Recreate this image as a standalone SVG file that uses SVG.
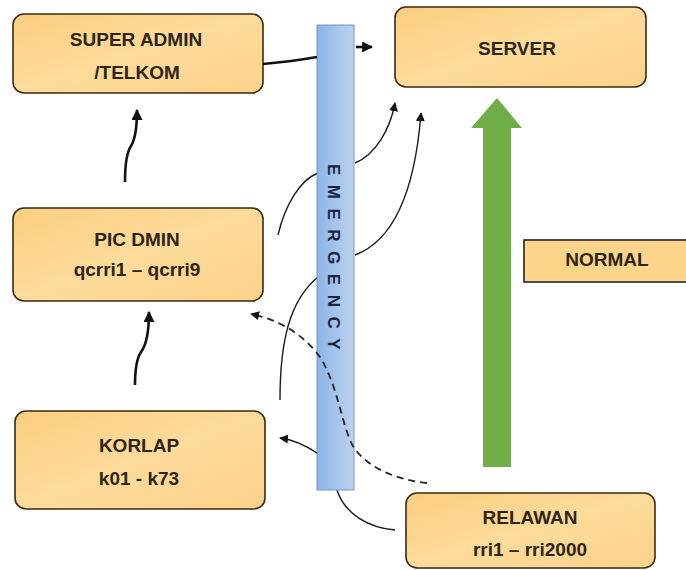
<svg xmlns="http://www.w3.org/2000/svg" width="686" height="570" viewBox="0 0 686 570">
<defs>
<linearGradient id="boxg" x1="0" y1="0" x2="1" y2="1">
<stop offset="0" stop-color="#fbce80"/>
<stop offset="0.5" stop-color="#fddb9a"/>
<stop offset="1" stop-color="#fcd28a"/>
</linearGradient>
<linearGradient id="barg" x1="0" y1="0" x2="1" y2="0">
<stop offset="0" stop-color="#8db5e6"/>
<stop offset="1" stop-color="#bcd2f0"/>
</linearGradient>
<marker id="ah" viewBox="0 0 10 10" refX="9" refY="5" markerWidth="9" markerHeight="9" markerUnits="userSpaceOnUse" orient="auto">
<path d="M0,0 L10,5 L0,10 Z" fill="#111"/>
</marker>
<marker id="ahb" viewBox="0 0 10 10" refX="9" refY="5" markerWidth="11" markerHeight="11" markerUnits="userSpaceOnUse" orient="auto">
<path d="M0,0 L10,5 L0,10 Z" fill="#111"/>
</marker>
</defs>
<style>
.box{fill:url(#boxg);stroke:#3a2a12;stroke-width:1.6}
.lbl{font-family:"Liberation Sans",Arial,sans-serif;font-weight:bold;font-size:19px;fill:#2e2418;text-anchor:middle}
.c{fill:none;stroke:#1a1a1a;stroke-width:1.4}
.thick{fill:none;stroke:#111;stroke-width:2.6}
.dash{fill:none;stroke:#222;stroke-width:1.8;stroke-dasharray:7,5}
.em{font-family:"Liberation Sans",Arial,sans-serif;font-weight:bold;font-size:17px;fill:#1c2440;letter-spacing:9.5px}
</style>
<rect width="686" height="570" fill="#ffffff"/>

<g id="connectors-under">
<path class="c" d="M278,235 C285,205 300,180 318,173"/>
<path class="c" d="M280,400 C280,340 290,300 318,277"/>
<path class="c" d="M395,530 C370,528 345,515 337,490"/>
</g>

<g id="emergency">
<rect x="317" y="25" width="37" height="465" fill="url(#barg)" stroke="#7396cc" stroke-width="1"/>
<text class="em" transform="translate(328,164) rotate(90)">EMERGENCY</text>
</g>

<g id="connectors">
<path class="thick" d="M263,64 C285,62 300,60 317,57"/>
<path class="thick" d="M356,47 L372,47" marker-end="url(#ahb)"/>
<path class="thick" d="M125,182 C125,165 127,152 131,146 C136,138 137,125 137,110" marker-end="url(#ahb)"/>
<path class="thick" d="M135,385 C135,370 137,358 141,352 C147,344 149,330 149,312" marker-end="url(#ahb)"/>
<path class="c" d="M355,163 C375,155 390,130 395,103" marker-end="url(#ah)"/>
<path class="c" d="M355,255 C395,240 415,190 421,113" marker-end="url(#ah)"/>
<path class="c" d="M317,453 C305,445 295,440 280,438" marker-end="url(#ah)"/>
<path class="dash" d="M427,483 C395,480 360,465 350,440 C340,415 338,390 322,360 C305,335 280,320 251,314" marker-end="url(#ah)"/>
</g>

<g id="normal-arrow">
<path d="M483,467 L483,128 L471,128 L497,98 L522,128 L511,128 L511,467 Z" fill="#70ad47"/>
</g>

<g id="super-admin">
<rect class="box" x="13" y="14" width="250" height="79" rx="11"/>
<text class="lbl" x="136" y="46">SUPER ADMIN</text>
<text class="lbl" x="137" y="79">/TELKOM</text>
</g>

<g id="server">
<rect class="box" x="395" y="7" width="251" height="80" rx="11"/>
<text class="lbl" x="517" y="55">SERVER</text>
</g>

<g id="pic-dmin">
<rect class="box" x="13" y="208" width="250" height="93" rx="11"/>
<text class="lbl" x="137" y="246">PIC DMIN</text>
<text class="lbl" x="137" y="276">qcrri1 – qcrri9</text>
</g>

<g id="korlap">
<rect class="box" x="15" y="411" width="250" height="98" rx="11"/>
<text class="lbl" x="139" y="452">KORLAP</text>
<text class="lbl" x="139" y="485">k01 -  k73</text>
</g>

<g id="relawan">
<rect class="box" x="406" y="493" width="249" height="75" rx="11"/>
<text class="lbl" x="530" y="524">RELAWAN</text>
<text class="lbl" x="530" y="556">rri1 – rri2000</text>
</g>

<g id="normal">
<rect x="524" y="240" width="170" height="42" fill="#fdd58a" stroke="#222" stroke-width="1.6"/>
<text class="lbl" x="607" y="266">NORMAL</text>
</g>
</svg>
